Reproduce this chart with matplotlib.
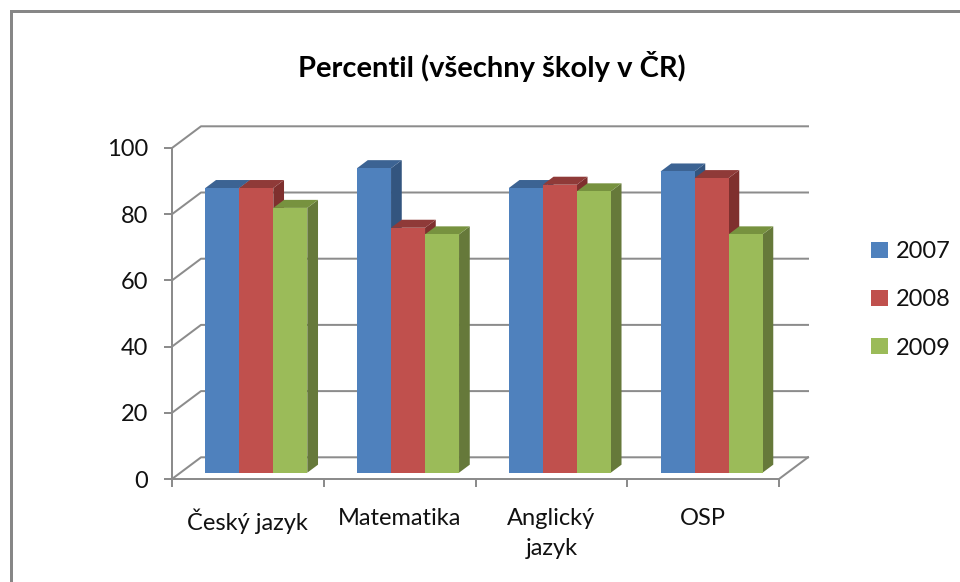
import matplotlib
matplotlib.use("Agg")
import matplotlib.pyplot as plt
from matplotlib.patches import Polygon, Rectangle
from matplotlib.lines import Line2D

plt.rcParams['font.family'] = ['Lato', 'DejaVu Sans']

# ---- data ----
categories = ["Český jazyk", "Matematika", "Anglický\njazyk", "OSP"]
series = ["2007", "2008", "2009"]
v2007 = [86, 92, 86, 91]
v2008 = [86, 74, 87, 89]
v2009 = [80, 72, 85, 72]
values = [v2007, v2008, v2009]
yticks = [0, 20, 40, 60, 80, 100]
title = "Percentil (všechny školy v ČR)"

front_colors = ["#4F81BD", "#C0504D", "#9BBB59"]
side_colors = ["#33557F", "#7F302E", "#66793A"]
top_colors = ["#3C6393", "#8F3A38", "#77923F"]
grid_color = "#8C8C8C"

W, H = 960, 582
fig = plt.figure(figsize=(W / 100, H / 100), dpi=100)
fig.patch.set_facecolor("white")

# front plot box in pixels
x0, x1 = 172, 779
y0, y1 = 479, 148
ax = fig.add_axes([x0 / W, (H - y0) / H, (x1 - x0) / W, (y0 - y1) / H])
n = len(categories)
ax.set_xlim(0, n)
ax.set_ylim(0, 100)
ax.set_facecolor("none")

px_x = (x1 - x0) / n        # pixels per category
px_y = (y0 - y1) / 100.0    # pixels per value unit
DX = 29 / px_x              # back wall depth offset (category units)
DY = 21.7 / px_y            # back wall depth offset (value units)
f_front, f_back = 0.29, 0.66

lw_grid = 2.0 * 72 / 100
# walls / gridlines
for v in yticks:
    ax.add_line(Line2D([0, DX, n + DX], [v, v + DY, v + DY], color=grid_color,
                       lw=lw_grid, clip_on=False, zorder=1))
ax.add_line(Line2D([n, n + DX], [0, DY], color=grid_color, lw=lw_grid,
                   clip_on=False, zorder=1))

# bars
bw = 34 / px_x
for i in range(n):
    center = i + 0.5 + DX * f_front
    bottom = DY * f_front
    ddx = DX * (f_back - f_front)
    ddy = DY * (f_back - f_front)
    for j, s in enumerate(series):
        v = values[j][i]
        xl = center + (j - 1) * bw - bw / 2
        xr = xl + bw
        top = bottom + v
        z = 2 + j * 0.1
        side = Polygon([(xr, bottom), (xr + ddx, bottom + ddy), (xr + ddx, top + ddy), (xr, top)],
                       closed=True, facecolor=side_colors[j], edgecolor="none",
                       clip_on=False, zorder=z)
        topf = Polygon([(xl, top), (xr, top), (xr + ddx, top + ddy), (xl + ddx, top + ddy)],
                       closed=True, facecolor=top_colors[j], edgecolor="none",
                       clip_on=False, zorder=z + 0.01)
        ax.add_patch(side)
        ax.add_patch(topf)
        ax.bar([xl], [v], width=bw, bottom=bottom, align="edge", color=front_colors[j],
               edgecolor="none", zorder=z + 0.02, clip_on=False,
               label=s if i == 0 else None)

# axes / spines
for sp in ["top", "right"]:
    ax.spines[sp].set_visible(False)
for sp in ["left", "bottom"]:
    ax.spines[sp].set_color(grid_color)
    ax.spines[sp].set_linewidth(lw_grid)
    ax.spines[sp].set_zorder(1.5)

ax.set_yticks(yticks)
ax.set_yticklabels([str(t) for t in yticks])
ax.tick_params(axis="y", direction="out", length=6, width=lw_grid, color=grid_color,
               labelsize=17, pad=11, labelcolor="#111111")
ax.set_xticks(range(n + 1))
ax.set_xticklabels([""] * (n + 1))
ax.tick_params(axis="x", which="major", direction="out", length=6, width=lw_grid,
               color=grid_color)
ax.set_xticks([i + 0.5 for i in range(n)], minor=True)
ax.set_xticklabels(categories, minor=True, fontsize=17, linespacing=1.5, va="top",
                   color="#111111")
ax.tick_params(axis="x", which="minor", length=0, pad=21)

# legend
handles, labels = ax.get_legend_handles_labels()
leg = fig.legend(handles, labels, loc="center left",
                 bbox_to_anchor=(862 / W, 1 - 300 / H), frameon=False, fontsize=17,
                 handlelength=0.68, handleheight=0.68, handletextpad=0.35,
                 labelspacing=1.15, borderaxespad=0)
for t in leg.get_texts():
    t.set_color("#111111")

# title
fig.text(492 / W, 1 - 66 / H, title, ha="center", va="center", fontsize=21,
         fontweight="bold")

# outer border (left & top visible)
fig.patches.append(Rectangle((10.5 / W, -0.2), 1.5, 1.2 - 10.5 / H, fill=False,
                             edgecolor="#878787", lw=3 * 72 / 100,
                             transform=fig.transFigure, figure=fig))

fig.savefig("out.png", dpi=100)
